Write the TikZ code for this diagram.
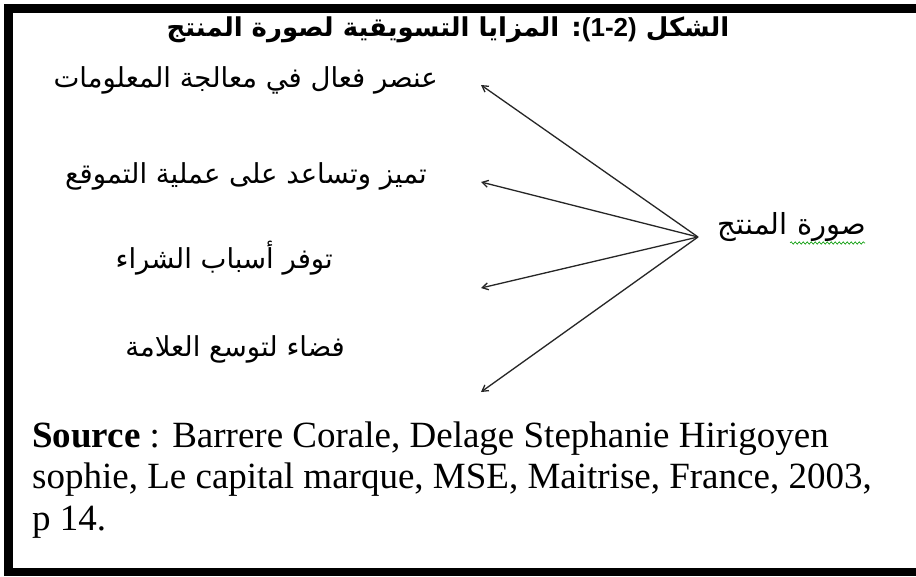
\documentclass[tikz,border=0pt]{standalone}
\usepackage{fontspec}
\usetikzlibrary{arrows.meta,decorations.pathmorphing}
\TeXXeTstate=1
\setmainfont{Liberation Serif}
\newfontfamily\arabicfont[Script=Arabic]{DejaVu Sans}
\newfontfamily\latinsans{Liberation Sans}
\begin{document}
\begin{tikzpicture}[x=1pt,y=-1pt,
  frameband/.style={fill=black},
  arlabel/.style={inner sep=0pt,anchor=base east,font=\arabicfont\fontsize{27.5}{32}\selectfont},
  titlelabel/.style={inner sep=0pt,anchor=base,font=\arabicfont\bfseries\fontsize{26}{30}\selectfont},
  prodlabel/.style={inner sep=0pt,anchor=base east,font=\arabicfont\fontsize{29}{33}\selectfont},
  srclabel/.style={inner sep=0pt,anchor=base west,align=left,font=\fontsize{37}{41.5}\selectfont},
  fanarrow/.style={draw=black!85,line width=1.3pt,-{Straight Barb[length=6pt,width=7pt]}},
  spell/.style={draw=green!60!black,line width=0.6pt,decorate,decoration={snake,amplitude=1.2pt,segment length=4pt}}
]
\useasboundingbox (0,0) rectangle (916,576);
\fill[white] (0,0) rectangle (916,576);
% frame
\fill[frameband] (4,4) rectangle (916,13);
\fill[frameband] (4,4) rectangle (13,576);
\fill[frameband] (4,568) rectangle (916,576);
% title
\node[titlelabel] (title) at (448,36) {\beginR الشكل \beginL{\latinsans\bfseries (1-2)}\endL: المزايا التسويقية لصورة المنتج\endR};
% labels
\node[arlabel] (l1) at (438,87) {\beginR عنصر فعال في معالجة المعلومات\endR};
\node[arlabel] (l2) at (427,183) {\beginR تميز وتساعد على عملية التموقع\endR};
\node[arlabel] (l3) at (333,268) {\beginR توفر أسباب الشراء\endR};
\node[arlabel] (l4) at (345,356) {\beginR فضاء لتوسع العلامة\endR};
% product
\node[prodlabel] (prod) at (866,234) {\beginR صورة المنتج\endR};
\draw[spell] (790,243) -- (865,243);
% connectors
\coordinate (hub) at (698,237);
\coordinate (t1) at (481,85);
\coordinate (t2) at (481,182);
\coordinate (t3) at (481,288);
\coordinate (t4) at (481,392);
\draw[fanarrow] (hub) -- (t1);
\draw[fanarrow] (hub) -- (t2);
\draw[fanarrow] (hub) -- (t3);
\draw[fanarrow] (hub) -- (t4);
% source
\node[srclabel] (src) at (32,530) {\textbf{Source} : Barrere Corale, Delage Stephanie Hirigoyen\\sophie, Le capital marque, MSE, Maitrise, France, 2003,\\p 14.};
\end{tikzpicture}
\end{document}
